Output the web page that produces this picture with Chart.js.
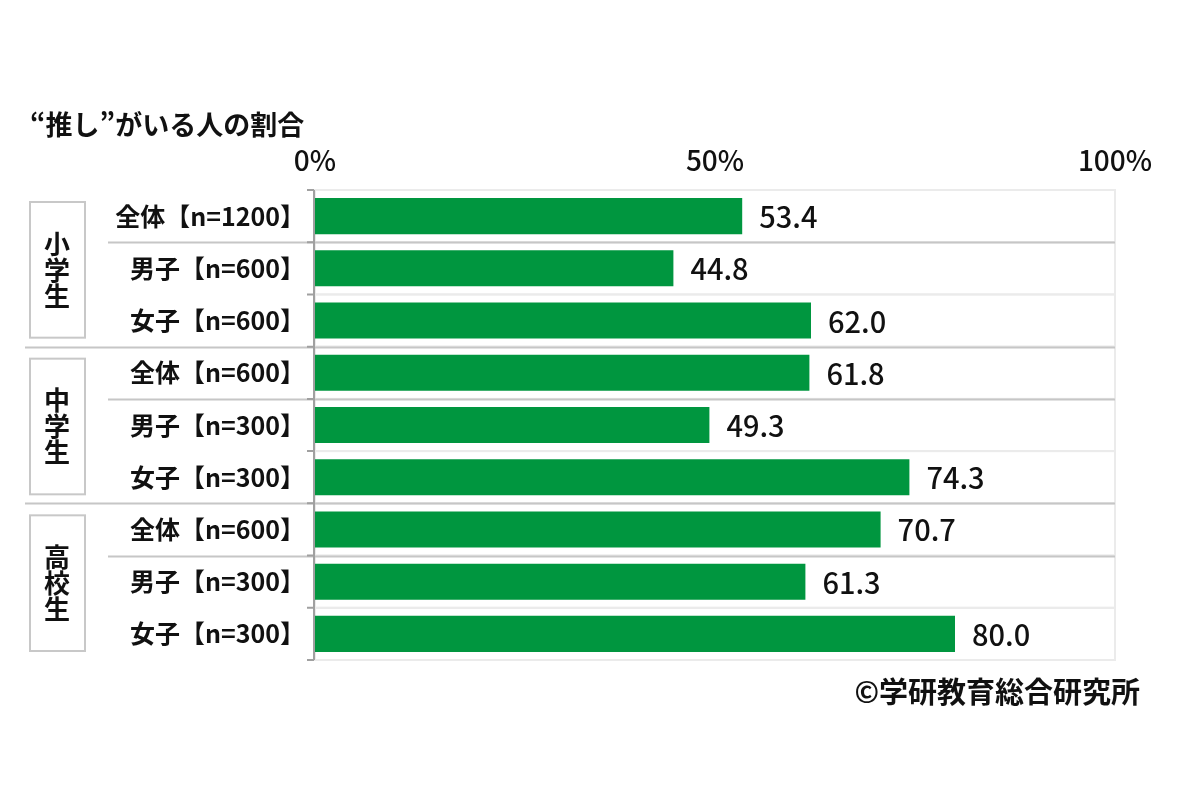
<!DOCTYPE html>
<html lang="ja">
<head>
<meta charset="utf-8">
<script src="https://cdn.jsdelivr.net/npm/chart.js@4"></script>
<style>
  html, body { margin: 0; padding: 0; background: #fff; }
  #wrap { position: relative; width: 1200px; height: 800px; font-family: 'Noto Sans CJK JP', 'Noto Sans', sans-serif; }
  #title { position: absolute; left: 30px; top: 110px; font-size: 27px; line-height: 27px; font-weight: bold; color: #111; }
  #credit { position: absolute; right: 60px; top: 676px; font-size: 29px; line-height: 29px; font-weight: bold; color: #111; }
</style>
</head>
<body>
<div id="wrap">
  <canvas id="chart" width="1200" height="800"></canvas>
  <div id="title">“推し”がいる人の割合</div>
  <div id="credit">©学研教育総合研究所</div>
</div>
<script>
// ── データ ──
const categories = [
  '全体【n=1200】', '男子【n=600】', '女子【n=600】',
  '全体【n=600】', '男子【n=300】', '女子【n=300】',
  '全体【n=600】', '男子【n=300】', '女子【n=300】'
];
const values = [53.4, 44.8, 62.0, 61.8, 49.3, 74.3, 70.7, 61.3, 80.0];
const groups = ['小学生', '中学生', '高校生'];
const rowsPerGroup = 3;
const xTicks = [0, 50, 100];

const FONT = "'Noto Sans CJK JP', 'Noto Sans', sans-serif";
const GREEN = '#00963f';

// 行の境界線・グループ枠・軸
const framePlugin = {
  id: 'frame',
  beforeDatasetsDraw(chart) {
    const { ctx, chartArea: a, scales: { y } } = chart;
    const n = categories.length;
    const step = n > 1 ? y.getPixelForValue(1) - y.getPixelForValue(0) : a.bottom - a.top;
    const edge = i => y.getPixelForValue(i) - step / 2;
    ctx.save();
    // 各行のうすい枠
    ctx.strokeStyle = '#ebebeb';
    ctx.lineWidth = 2;
    for (let i = 0; i < n; i++) {
      ctx.strokeRect(a.left, edge(i), a.right - a.left, step);
    }
    // 濃い区切り線
    ctx.strokeStyle = '#c6c6c6';
    ctx.lineWidth = 2;
    for (let i = 1; i < n; i++) {
      const pos = i % rowsPerGroup;
      if (pos === 2) continue;
      const yy = Math.round(edge(i)) + 0.5;
      const x0 = pos === 0 ? 25 : 108;
      ctx.beginPath();
      ctx.moveTo(x0, yy);
      ctx.lineTo(a.right, yy);
      ctx.stroke();
    }
    // グループ枠と縦書きラベル
    groups.forEach((g, gi) => {
      const top = edge(gi * rowsPerGroup) + 12;
      const bottom = edge((gi + 1) * rowsPerGroup) - 9;
      ctx.strokeStyle = '#c8c8c8';
      ctx.lineWidth = 2;
      ctx.strokeRect(30, top, 55, bottom - top);
      ctx.fillStyle = '#111';
      ctx.font = 'bold 26px ' + FONT;
      ctx.textAlign = 'center';
      ctx.textBaseline = 'middle';
      const mid = (top + bottom) / 2;
      const chars = [...g];
      chars.forEach((c, ci) => {
        ctx.fillText(c, 57, mid + (ci - (chars.length - 1) / 2) * 26);
      });
    });
    ctx.restore();
  },
  afterDatasetsDraw(chart) {
    const { ctx, chartArea: a, scales: { y } } = chart;
    const n = categories.length;
    const step = n > 1 ? y.getPixelForValue(1) - y.getPixelForValue(0) : a.bottom - a.top;
    ctx.save();
    // 縦軸と目盛り
    ctx.strokeStyle = '#a0a0a0';
    ctx.lineWidth = 2;
    ctx.beginPath();
    ctx.moveTo(a.left - 1, a.top);
    ctx.lineTo(a.left - 1, a.bottom);
    for (let i = 0; i <= n; i++) {
      const yy = y.getPixelForValue(i) - step / 2;
      ctx.moveTo(a.left - 8, yy);
      ctx.lineTo(a.left - 1, yy);
    }
    ctx.stroke();
    // 数値ラベル
    ctx.fillStyle = '#111';
    ctx.font = '500 29px ' + FONT;
    ctx.textAlign = 'left';
    ctx.textBaseline = 'middle';
    chart.getDatasetMeta(0).data.forEach((bar, i) => {
      ctx.fillText(values[i].toFixed(1), bar.x + 17, bar.y + 1);
    });
    ctx.restore();
  }
};

new Chart(document.getElementById('chart'), {
  type: 'bar',
  data: {
    labels: categories,
    datasets: [{
      data: values,
      backgroundColor: GREEN,
      categoryPercentage: 1,
      barPercentage: 0.69
    }]
  },
  options: {
    indexAxis: 'y',
    responsive: false,
    animation: false,
    devicePixelRatio: 1,
    layout: { padding: { top: 0, left: 0, right: 85, bottom: 140 } },
    plugins: { legend: { display: false }, tooltip: { enabled: false } },
    scales: {
      x: {
        position: 'top',
        min: 0,
        max: 100,
        afterBuildTicks: s => { s.ticks = xTicks.map(v => ({ value: v })); },
        afterFit: s => { s.height = 190; },
        grid: { display: false, drawTicks: false },
        border: { display: false },
        ticks: {
          padding: 13,
          color: '#111',
          font: { family: FONT, size: 28, weight: '500' },
          callback: v => v + '%',
          maxRotation: 0
        }
      },
      y: {
        afterFit: s => { s.width = 315; },
        grid: { display: false, drawTicks: false },
        border: { display: false },
        ticks: {
          padding: 10,
          color: '#111',
          font: { family: FONT, size: 25, weight: 'bold' }
        }
      }
    }
  },
  plugins: [framePlugin]
});
</script>
</body>
</html>
